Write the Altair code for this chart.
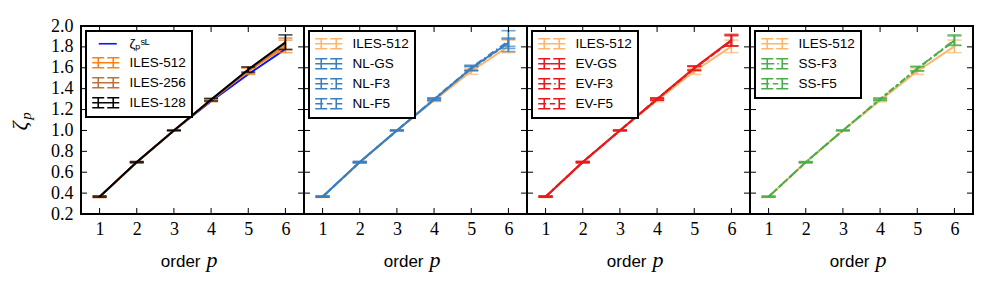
import altair as alt
import pandas as pd

# ---------------- data ----------------
P = [1, 2, 3, 4, 5, 6]

SL = [0.364, 0.696, 1.000, 1.280, 1.538, 1.778]

ILES512 = [0.364, 0.695, 1.000, 1.288, 1.567, 1.805]
ILES512_ERR = [0.006, 0.005, 0.002, 0.012, 0.030, 0.060]
ILES256 = [0.365, 0.696, 1.000, 1.290, 1.575, 1.830]
ILES256_ERR = [0.006, 0.005, 0.002, 0.012, 0.030, 0.055]
ILES128 = [0.366, 0.697, 1.000, 1.295, 1.583, 1.845]
ILES128_ERR = [0.006, 0.005, 0.002, 0.012, 0.025, 0.070]

NLGS = [0.366, 0.697, 1.000, 1.297, 1.595, 1.840]
NLGS_ERR = [0.005, 0.005, 0.002, 0.010, 0.020, 0.035]
NLF3 = [0.366, 0.697, 1.000, 1.300, 1.600, 1.855]
NLF3_ERR = [0.005, 0.005, 0.002, 0.010, 0.025, 0.100]
NLF5 = [0.366, 0.696, 1.000, 1.298, 1.592, 1.835]
NLF5_ERR = [0.005, 0.005, 0.002, 0.010, 0.020, 0.050]

EVGS = [0.366, 0.697, 1.000, 1.300, 1.598, 1.865]
EVGS_ERR = [0.005, 0.005, 0.002, 0.010, 0.020, 0.055]
EVF3 = [0.366, 0.697, 1.000, 1.300, 1.595, 1.860]
EVF3_ERR = [0.005, 0.005, 0.002, 0.010, 0.020, 0.050]
EVF5 = [0.366, 0.697, 1.000, 1.299, 1.593, 1.858]
EVF5_ERR = [0.005, 0.005, 0.002, 0.010, 0.020, 0.050]

SSF3 = [0.365, 0.696, 1.000, 1.300, 1.592, 1.865]
SSF3_ERR = [0.005, 0.005, 0.002, 0.010, 0.022, 0.050]
SSF5 = [0.365, 0.696, 1.000, 1.298, 1.590, 1.860]
SSF5_ERR = [0.005, 0.005, 0.002, 0.010, 0.020, 0.045]

Y_TICKS = [0.2, 0.4, 0.6, 0.8, 1.0, 1.2, 1.4, 1.6, 1.8, 2.0]
X_TICKS = [1, 2, 3, 4, 5, 6]

SL_NAME = "ζₚˢᴸ"

SERIES = {
    "ILES-512": (ILES512, ILES512_ERR),
    "ILES-512 ": (ILES512, ILES512_ERR),
    "ILES-256": (ILES256, ILES256_ERR),
    "ILES-128": (ILES128, ILES128_ERR),
    "NL-GS": (NLGS, NLGS_ERR),
    "NL-F3": (NLF3, NLF3_ERR),
    "NL-F5": (NLF5, NLF5_ERR),
    "EV-GS": (EVGS, EVGS_ERR),
    "EV-F3": (EVF3, EVF3_ERR),
    "EV-F5": (EVF5, EVF5_ERR),
    "SS-F3": (SSF3, SSF3_ERR),
    "SS-F5": (SSF5, SSF5_ERR),
}

# ---------------- styles ----------------
COL = {
    SL_NAME: "#0a14ff",
    "ILES-512": "#ff8012",
    "ILES-512 ": "#ffb56b",
    "ILES-256": "#c0703c",
    "ILES-128": "#000000",
    "NL-GS": "#3a7fbf", "NL-F3": "#3a7fbf", "NL-F5": "#3a7fbf",
    "EV-GS": "#e8191c", "EV-F3": "#e8191c", "EV-F5": "#e8191c",
    "SS-F3": "#4aae48", "SS-F5": "#4aae48",
}
DASH = {"F3": [7, 3, 1.5, 3], "F5": [4, 3]}

CAPS = ("M-1.5,-1V1M1.5,-1V1M-2.7,-1H-0.3M-2.7,1H-0.3"
        "M0.3,-1H2.7M0.3,1H2.7")
SYM_SOLID = "M-2.7,0H2.7" + CAPS
SYM_F3 = "M-2.7,0H-0.1M0.5,0H0.8M1.5,0H2.7" + CAPS
SYM_F5 = "M-2.7,0H-1.1M-0.4,0H0.7M1.5,0H2.7" + CAPS
SYM_LINE = "M-1.4,0H2.2"


def sym(name):
    if name == SL_NAME:
        return SYM_LINE
    if name.endswith("F3"):
        return SYM_F3
    if name.endswith("F5"):
        return SYM_F5
    return SYM_SOLID


def dash(name):
    for k, v in DASH.items():
        if name.endswith(k):
            return v
    return None


W, H = 223, 188
XS = alt.Scale(domain=[0.5, 6.5], nice=False, zero=False)
YS = alt.Scale(domain=[0.2, 2.0], nice=False, zero=False)
SERIF = "Liberation Serif"
SANS = "Liberation Sans"

XAXIS = alt.Axis(values=X_TICKS, format="d", title=None, ticks=False, domain=False,
                 grid=False, labelFont=SERIF, labelFontSize=18, labelPadding=6,
                 labelColor="black")
YAXIS = alt.Axis(values=Y_TICKS, format=".1f", title=None, ticks=False, domain=False,
                 grid=False, labelFont=SERIF, labelFontSize=18, labelPadding=8,
                 labelColor="black")


def X(field):
    return alt.X(field, scale=XS, axis=XAXIS)


def Y(field, show):
    return alt.Y(field, scale=YS, axis=YAXIS if show else None)


def series_layers(name, show_y):
    vals, errs = SERIES[name]
    df = pd.DataFrame({"p": P, "m": vals,
                       "lo": [v - e for v, e in zip(vals, errs)],
                       "hi": [v + e for v, e in zip(vals, errs)]})
    base = alt.Chart(df)
    c = COL[name]
    d = dash(name)
    if d:
        lm = base.mark_line(color=c, strokeWidth=2, strokeDash=d)
    else:
        lm = base.mark_line(color=c, strokeWidth=2)
    line = lm.encode(x=X("p:Q"), y=Y("m:Q", show_y))
    bar = base.mark_rule(color=c, strokeWidth=1.6).encode(
        x=X("p:Q"), y=Y("lo:Q", show_y), y2="hi:Q")
    cap_lo = base.mark_tick(color=c, thickness=1.6, size=14, orient="horizontal").encode(
        x=X("p:Q"), y=Y("lo:Q", show_y))
    cap_hi = base.mark_tick(color=c, thickness=1.6, size=14, orient="horizontal").encode(
        x=X("p:Q"), y=Y("hi:Q", show_y))
    return [line, bar, cap_lo, cap_hi]


def panel(names, show_y):
    layers = []
    for n in names:
        if n == SL_NAME:
            df = pd.DataFrame({"p": P, "m": SL})
            layers.append(alt.Chart(df).mark_line(color=COL[SL_NAME], strokeWidth=2).encode(
                x=X("p:Q"), y=Y("m:Q", show_y)))
        else:
            layers.extend(series_layers(n, show_y))

    # inward ticks on all four sides
    yt = alt.Chart(pd.DataFrame({"v": Y_TICKS}))
    xt = alt.Chart(pd.DataFrame({"v": X_TICKS}))
    layers.append(yt.mark_rule(color="black", strokeWidth=1).encode(
        y=Y("v:Q", show_y), x=alt.value(0), x2=alt.value(6)))
    layers.append(yt.mark_rule(color="black", strokeWidth=1).encode(
        y=Y("v:Q", show_y), x=alt.value(W - 6), x2=alt.value(W)))
    layers.append(xt.mark_rule(color="black", strokeWidth=1).encode(
        x=X("v:Q"), y=alt.value(H - 6), y2=alt.value(H)))
    layers.append(xt.mark_rule(color="black", strokeWidth=1).encode(
        x=X("v:Q"), y=alt.value(0), y2=alt.value(6)))

    # legend (symbols from the series names)
    ldf = pd.DataFrame({"series": names})
    layers.append(alt.Chart(ldf).mark_point(filled=False, strokeWidth=1.6).encode(
        stroke=alt.Stroke("series:N",
                          scale=alt.Scale(domain=names, range=[COL[n] for n in names]),
                          legend=alt.Legend(orient="top-left", offset=5, title=None)),
        shape=alt.Shape("series:N",
                        scale=alt.Scale(domain=names, range=[sym(n) for n in names]),
                        legend=alt.Legend(orient="top-left", offset=5, title=None)),
        opacity=alt.value(0),
    ))

    # axis titles
    layers.append(alt.Chart(pd.DataFrame({"t": ["order"]})).mark_text(
        font=SANS, fontSize=17, align="right", baseline="alphabetic", color="black").encode(
        text="t:N", x=alt.value(W / 2 + 8), y=alt.value(241)))
    layers.append(alt.Chart(pd.DataFrame({"t": ["p"]})).mark_text(
        font=SERIF, fontSize=22, fontStyle="italic", align="left", baseline="alphabetic",
        color="black").encode(text="t:N", x=alt.value(W / 2 + 14), y=alt.value(241)))
    if show_y:
        layers.append(alt.Chart(pd.DataFrame({"t": ["ζ"]})).mark_text(
            font=SERIF, fontSize=22, fontStyle="italic", align="center", baseline="alphabetic",
            angle=270, color="black").encode(text="t:N", x=alt.value(-54), y=alt.value(100)))
        layers.append(alt.Chart(pd.DataFrame({"t": ["p"]})).mark_text(
            font=SERIF, fontSize=15, fontStyle="italic", align="center", baseline="alphabetic",
            angle=270, color="black").encode(text="t:N", x=alt.value(-50), y=alt.value(90)))

    return alt.layer(*layers).properties(width=W, height=H)


p1 = panel([SL_NAME, "ILES-512", "ILES-256", "ILES-128"], True)
p2 = panel(["ILES-512 ", "NL-GS", "NL-F3", "NL-F5"], False)
p3 = panel(["ILES-512 ", "EV-GS", "EV-F3", "EV-F5"], False)
p4 = panel(["ILES-512 ", "SS-F3", "SS-F5"], False)

chart = alt.hconcat(p1, p2, p3, p4, spacing=0, bounds="flush").resolve_scale(
    stroke="independent", shape="independent"
).properties(
    padding={"left": 8, "top": 16, "right": 5, "bottom": 5},
    background="white",
).configure_view(stroke="black", strokeWidth=2).configure_legend(
    strokeColor="black", strokeWidth=2, fillColor="white", padding=6,
    labelFont=SANS, labelFontSize=13.5, labelColor="black",
    symbolSize=100, symbolStrokeWidth=1.6, symbolOffset=7, labelOffset=17,
    rowPadding=3, cornerRadius=0, symbolOpacity=1,
)

chart.save("out.html", embed_options={"renderer": "svg", "actions": False})
